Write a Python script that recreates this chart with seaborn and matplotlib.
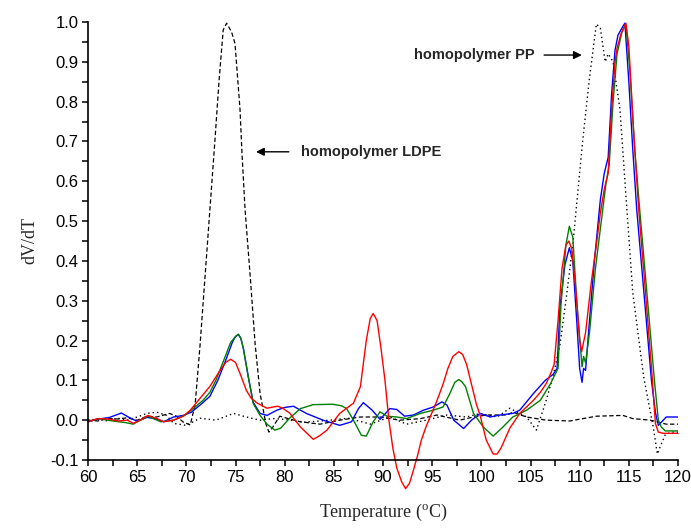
import numpy as np
import pandas as pd
import matplotlib
matplotlib.use("Agg")
import matplotlib.pyplot as plt
from matplotlib.ticker import MultipleLocator
import seaborn as sns

# ---- data: derivative curves dV/dT vs temperature ----
ldpe_T = [60, 61, 62, 63, 64, 65, 66, 67, 68.3, 69, 69.7, 70.4, 70.9, 71.4, 71.9, 72.4,
          72.9, 73.35, 73.75, 74.1, 74.6, 74.95, 75.46, 75.66, 75.97, 76.5, 77.0, 77.5,
          78.1, 78.4, 78.8, 79.5, 80.5, 81.6, 83.6, 85.6, 87.7, 89.7, 91.7, 93.8, 95.5,
          97.8, 99.2, 100.5, 102.6, 103.2, 104.6, 106.6, 109, 111.7, 114.4, 115.4, 117.2,
          118.8, 120]
ldpe_V = [0.0, -0.002, 0.004, 0.003, 0.006, 0.0, 0.01, 0.008, 0.017, 0.01, -0.005, -0.012,
          0.04, 0.19, 0.36, 0.53, 0.70, 0.86, 0.98, 0.997, 0.975, 0.946, 0.78, 0.67, 0.53,
          0.36, 0.19, 0.067, -0.01, -0.03, -0.017, 0.01, 0.003, -0.004, -0.01, 0.0, 0.008,
          0.008, 0.0, 0.004, 0.013, 0.0, 0.008, 0.013, 0.013, 0.02, 0.008, 0.0, -0.002,
          0.01, 0.012, 0.004, 0.0, -0.01, -0.01]

pp_T = [60, 61, 62, 63, 64, 65, 66, 67, 68, 68.7, 70, 71.4, 73, 74.8, 76.1, 77.5, 78.8,
        80, 82, 84.6, 86.5, 88.7, 90.7, 92.4, 94.4, 96.5, 98.5, 99.9, 101.6, 102.9,
        104.6, 105.6, 106.6, 107.3, 108, 108.6, 109.3, 110.3, 111, 111.7, 112.1, 112.6,
        112.9, 113.4, 114.1, 114.8, 115.4, 116.5, 117.5, 117.9, 118.3, 118.7, 119.3, 120]
pp_V = [0.0, 0.003, -0.002, 0.005, 0.0, 0.008, 0.017, 0.02, 0.012, -0.008, -0.013, 0.005,
        0.0, 0.017, 0.008, 0.0, 0.004, 0.002, -0.005, 0.0, 0.005, -0.01, 0.008, -0.01,
        0.0, 0.013, 0.008, 0.017, 0.008, 0.03, 0.008, -0.025, 0.05, 0.11, 0.19, 0.30,
        0.44, 0.70, 0.86, 0.995, 0.985, 0.90, 0.92, 0.90, 0.78, 0.53, 0.32, 0.11, -0.02,
        -0.085, -0.06, -0.037, -0.03, -0.03]

blue_T = [60, 60.9, 62.2, 63.4, 64.1, 65, 66, 67, 67.7, 68.7, 69.7, 70.5, 71.4, 72.4, 73.2,
          74, 74.7, 75.0, 75.3, 75.55, 75.8, 76.3, 76.8, 77.5, 78.2, 79.2, 80, 80.9, 82.2,
          83.9, 85.6, 86.8, 87.5, 88, 88.9, 89.7, 90.7, 91.4, 92.2, 93.1, 94.1, 95.1, 96,
          96.5, 97.2, 98.2, 99, 99.9, 100.9, 101.9, 103.2, 103.9, 105.3, 106.5, 107.3,
          107.7, 108, 108.5, 108.95, 109.3, 109.7, 110.0, 110.24, 110.4, 110.6, 111,
          111.5, 112.1, 112.5, 112.9, 113.25, 113.6, 113.9, 114.3, 114.6, 115.0, 115.4,
          115.8, 116.5, 117.3, 117.7, 118.0, 118.5, 118.8, 120]
blue_V = [-0.004, 0.002, 0.007, 0.018, 0.008, -0.003, 0.007, 0.003, -0.004, 0.008, 0.012,
          0.02, 0.038, 0.06, 0.1, 0.15, 0.197, 0.21, 0.215, 0.205, 0.18, 0.109, 0.045,
          0.017, 0.012, 0.025, 0.032, 0.035, 0.017, 0.0, -0.013, -0.004, 0.029, 0.044,
          0.025, 0.002, 0.029, 0.027, 0.01, 0.013, 0.025, 0.033, 0.046, 0.038, 0.0,
          -0.021, 0.0, 0.017, 0.008, 0.013, 0.017, 0.025, 0.067, 0.1, 0.115, 0.13, 0.285,
          0.39, 0.433, 0.40, 0.25, 0.13, 0.095, 0.13, 0.125, 0.25, 0.40, 0.553, 0.62,
          0.66, 0.82, 0.93, 0.967, 0.985, 0.997, 0.85, 0.68, 0.53, 0.33, 0.1, 0.02,
          -0.013, 0.0, 0.008, 0.008]

green_T = [60, 61.1, 62.5, 63.8, 64.6, 65.3, 66.1, 67.4, 68.7, 69.8, 70.7, 71.7, 72.4, 73,
           73.8, 74.5, 75.0, 75.3, 75.55, 75.8, 76.3, 76.8, 77.5, 78.2, 79.0, 79.6, 80.5,
           81.6, 82.9, 84.9, 85.8, 86.3, 87.0, 87.8, 88.3, 89.0, 89.7, 90.4, 91.4, 92.4,
           93.8, 95.1, 96.1, 96.8, 97.3, 97.7, 98.0, 98.4, 99.2, 100.2, 101.2, 102.2,
           103.2, 104.6, 106.0, 107.0, 107.8, 108.1, 108.6, 108.95, 109.3, 109.7, 110.24,
           110.4, 110.6, 111.0, 111.6, 112.2, 112.7, 113.0, 113.4, 113.8, 114.3, 114.7,
           115.1, 115.6, 116.1, 116.8, 117.6, 118.0, 118.3, 118.7, 120]
green_V = [-0.004, 0.004, -0.002, -0.006, -0.01, 0.0, 0.01, -0.004, 0.0, 0.012, 0.029,
           0.05, 0.07, 0.1, 0.15, 0.195, 0.21, 0.216, 0.205, 0.18, 0.109, 0.042, 0.012,
           -0.01, -0.025, -0.02, 0.005, 0.029, 0.039, 0.04, 0.036, 0.029, 0.0, -0.038,
           -0.04, -0.004, 0.021, 0.01, 0.008, 0.004, 0.017, 0.025, 0.033, 0.067, 0.095,
           0.102, 0.097, 0.084, 0.017, -0.017, -0.04, -0.017, 0.008, 0.025, 0.05, 0.09,
           0.13, 0.29, 0.44, 0.487, 0.46, 0.30, 0.134, 0.16, 0.144, 0.22, 0.38, 0.50, 0.60,
           0.64, 0.80, 0.92, 0.975, 0.995, 0.88, 0.68, 0.53, 0.33, 0.1, 0.0, -0.017,
           -0.027, -0.027]

red_T = [60, 61, 62, 63.1, 64, 64.6, 65.3, 66.1, 67, 67.7, 68.7, 69.7, 70.4, 71.4, 72.4,
         73.3, 74, 74.5, 75, 75.5, 76.1, 76.6, 77.2, 78.2, 78.8, 79.3, 79.8, 80.5, 81.6,
         82.9, 83.5, 84.3, 85.6, 86.3, 87, 87.7, 88.3, 88.7, 89.0, 89.4, 89.8, 90.2, 90.6,
         91.0, 91.4, 91.9, 92.3, 92.7, 93.1, 93.5, 93.9, 94.4, 95.0, 95.5, 96.1, 96.6,
         97.1, 97.7, 98.1, 98.5, 99.0, 99.5, 99.9, 100.5, 101.2, 101.6, 102.0, 102.9,
         103.9, 105.3, 106.0, 106.6, 107.1, 107.4, 107.8, 108.2, 108.6, 108.9, 109.2,
         109.6, 110.0, 110.2, 110.6, 111.2, 111.7, 112.1, 112.5, 112.9, 113.25, 113.6,
         113.8, 114.2, 114.7, 115.0, 115.5, 116.0, 116.7, 117.4, 117.7, 118.0, 118.5, 120]
red_V = [-0.004, 0.004, 0.003, -0.002, 0.0, -0.008, 0.0, 0.012, 0.004, -0.004, 0.0, 0.01,
         0.025, 0.055, 0.085, 0.12, 0.145, 0.153, 0.145, 0.115, 0.075, 0.055, 0.043, 0.03,
         0.033, 0.035, 0.03, 0.018, -0.017, -0.048, -0.04, -0.025, 0.017, 0.03, 0.043,
         0.084, 0.2, 0.255, 0.268, 0.25, 0.18, 0.1, 0.0, -0.07, -0.12, -0.155, -0.172,
         -0.158, -0.125, -0.09, -0.05, -0.015, 0.02, 0.05, 0.09, 0.13, 0.16, 0.172, 0.165,
         0.14, 0.09, 0.04, 0.01, -0.05, -0.085, -0.085, -0.07, -0.02, 0.017, 0.05, 0.07,
         0.092, 0.12, 0.14, 0.25, 0.38, 0.44, 0.45, 0.43, 0.33, 0.20, 0.172, 0.22, 0.35,
         0.44, 0.52, 0.58, 0.62, 0.78, 0.90, 0.934, 0.97, 0.997, 0.94, 0.72, 0.53, 0.32,
         0.1, -0.008, -0.03, -0.033, -0.033]

x_ticks = [60, 65, 70, 75, 80, 85, 90, 95, 100, 105, 110, 115, 120]
y_ticks = [-0.1, 0.0, 0.1, 0.2, 0.3, 0.4, 0.5, 0.6, 0.7, 0.8, 0.9, 1.0]

sns.set_style("ticks")
plt.rcParams["font.family"] = ["Liberation Sans", "DejaVu Sans"]
plt.rcParams["mathtext.fontset"] = "custom"
plt.rcParams["mathtext.rm"] = "Liberation Serif"

fig = plt.figure(figsize=(6.91, 5.29), dpi=100)
ax = fig.add_axes([88 / 691, (529 - 460) / 529, 590 / 691, (460 - 22) / 529])

series = [
    (ldpe_T, ldpe_V, dict(color="black", linestyle=(0, (3.5, 2)), linewidth=0.9)),
    (pp_T, pp_V, dict(color="black", linestyle=(0, (1, 2.2)), linewidth=1.0)),
    (blue_T, blue_V, dict(color="#0000ff", linewidth=1.0)),
    (green_T, green_V, dict(color="#007f00", linewidth=1.0)),
    (red_T, red_V, dict(color="#ff0000", linewidth=1.0, clip_on=False)),
]
for T, V, style in series:
    df = pd.DataFrame({"T": T, "V": V})
    sns.lineplot(data=df, x="T", y="V", ax=ax, sort=False, estimator=None, **style)

ax.set_xlim(60, 120)
ax.set_ylim(-0.1, 1.0)
ax.set_xticks(x_ticks)
ax.set_yticks(y_ticks)
ax.set_xticklabels([str(t) for t in x_ticks])
ax.set_yticklabels([f"{t:.1f}" for t in y_ticks])
ax.xaxis.set_minor_locator(MultipleLocator(2.5))
ax.yaxis.set_minor_locator(MultipleLocator(0.05))
ax.tick_params(which="both", direction="out", length=4, width=1.1, labelsize=12,
               color="black", labelcolor="black")
ax.tick_params(which="major", pad=3)
for side in ("top", "right"):
    ax.spines[side].set_visible(False)
for side in ("left", "bottom"):
    ax.spines[side].set_linewidth(1.2)
    ax.spines[side].set_color("black")

ax.set_xlabel("Temperature ($^{\\rm o}$C)", family=["Liberation Serif"], fontsize=13,
              labelpad=12)
ax.set_ylabel("dV/dT", family=["Liberation Serif"], fontsize=13, labelpad=8)

arrow = dict(arrowstyle="-|>", color="black", lw=1.0, mutation_scale=12)
ax.annotate("", xy=(76.8, 0.674), xytext=(80.7, 0.674), arrowprops=arrow)
ax.text(81.7, 0.674, "homopolymer LDPE", fontsize=10.5, fontweight="bold", va="center")
ax.annotate("", xy=(110.5, 0.917), xytext=(106.1, 0.917), arrowprops=arrow)
ax.text(105.4, 0.917, "homopolymer PP", fontsize=10.5, fontweight="bold", va="center",
        ha="right")

fig.savefig("out.png", dpi=100)
